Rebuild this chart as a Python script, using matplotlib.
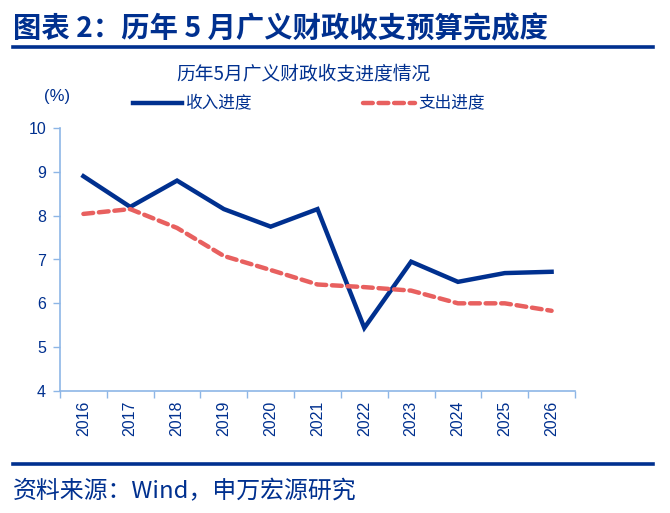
import matplotlib
matplotlib.use("Agg")
import matplotlib.pyplot as plt
from matplotlib.lines import Line2D

plt.rcParams['font.family'] = ['Noto Sans CJK SC', 'DejaVu Sans']
NUMFONT = ['Liberation Sans', 'Noto Sans CJK SC']

years = ['2016', '2017', '2018', '2019', '2020', '2021', '2022', '2023', '2024', '2025', '2026']
revenue = [8.9, 8.2, 8.8, 8.15, 7.75, 8.15, 5.44, 6.95, 6.49, 6.69, 6.72]
expenditure = [8.04, 8.15, 7.72, 7.08, 6.76, 6.43, 6.37, 6.29, 6.0, 6.0, 5.83]
yticks = [4, 5, 6, 7, 8, 9, 10]

NAVY = '#00308F'
RED = '#E8605F'
AXC = '#8DB6E6'

fig = plt.figure(figsize=(6.7, 5.13), dpi=100)
ax = fig.add_axes([60/670, 1-391/513, 515/670, 263/513])

x = list(range(len(years)))
ax.plot(x, revenue, color=NAVY, lw=3.2, solid_joinstyle='miter')
ax.plot(x, expenditure, color=RED, lw=3.2, dashes=(2.2, 1.3), dash_capstyle='round')

ax.set_xlim(-0.5, len(years)-0.5)
ax.set_ylim(4, 10)
ax.set_yticks(yticks)
ax.set_yticklabels([str(v) for v in yticks], family=NUMFONT)
ax.set_xticks([i - 0.5 for i in range(len(years)+1)])
ax.set_xticklabels([])
ax.set_xticks(x, minor=True)
ax.set_xticklabels(years, minor=True, rotation=90, family=NUMFONT)
ax.tick_params(axis='x', which='minor', length=0, pad=7, labelsize=11.5, labelcolor=NAVY)
ax.tick_params(axis='x', which='major', length=5, color=AXC, width=1)
ax.tick_params(axis='y', length=5, color=AXC, width=1, labelsize=11.5, labelcolor=NAVY, pad=5)
for s in ['top', 'right']:
    ax.spines[s].set_visible(False)
for s in ['left', 'bottom']:
    ax.spines[s].set_color(AXC)
    ax.spines[s].set_linewidth(1.2)

# Header
fig.text(13/670, 1-29/513, '图表 2：历年 5 月广义财政收支预算完成度', fontsize=20.4, fontweight='bold',
         color=NAVY, va='center', ha='left')
fig.add_artist(Line2D([13/670, 653/670], [1-47/513, 1-47/513], color=NAVY, lw=2.6))
fig.text(303/670, 1-74/513, '历年5月广义财政收支进度情况', fontsize=13.5, color=NAVY, ha='center', va='center')
fig.text(57/670, 1-96/513, '(%)', fontsize=12, color=NAVY, ha='center', va='center', family=NUMFONT)

# Legend
fig.add_artist(Line2D([133/670, 182/670], [1-103/513, 1-103/513], color=NAVY, lw=3.2))
fig.text(186/670, 1-103/513, '收入进度', fontsize=12, color=NAVY, ha='left', va='center')
fig.add_artist(Line2D([363/670, 415/670], [1-103/513, 1-103/513], color=RED, lw=3.2,
                      dashes=(2.2, 1.3), dash_capstyle='round'))
fig.text(418/670, 1-103/513, '支出进度', fontsize=12, color=NAVY, ha='left', va='center')

# Footer
fig.add_artist(Line2D([13/670, 653/670], [1-464/513, 1-464/513], color=NAVY, lw=2.6))
fig.text(13/670, 1-492/513, '资料来源：Wind，申万宏源研究', fontsize=17.2, color=NAVY, ha='left', va='center')

fig.savefig('out.png', dpi=100)
